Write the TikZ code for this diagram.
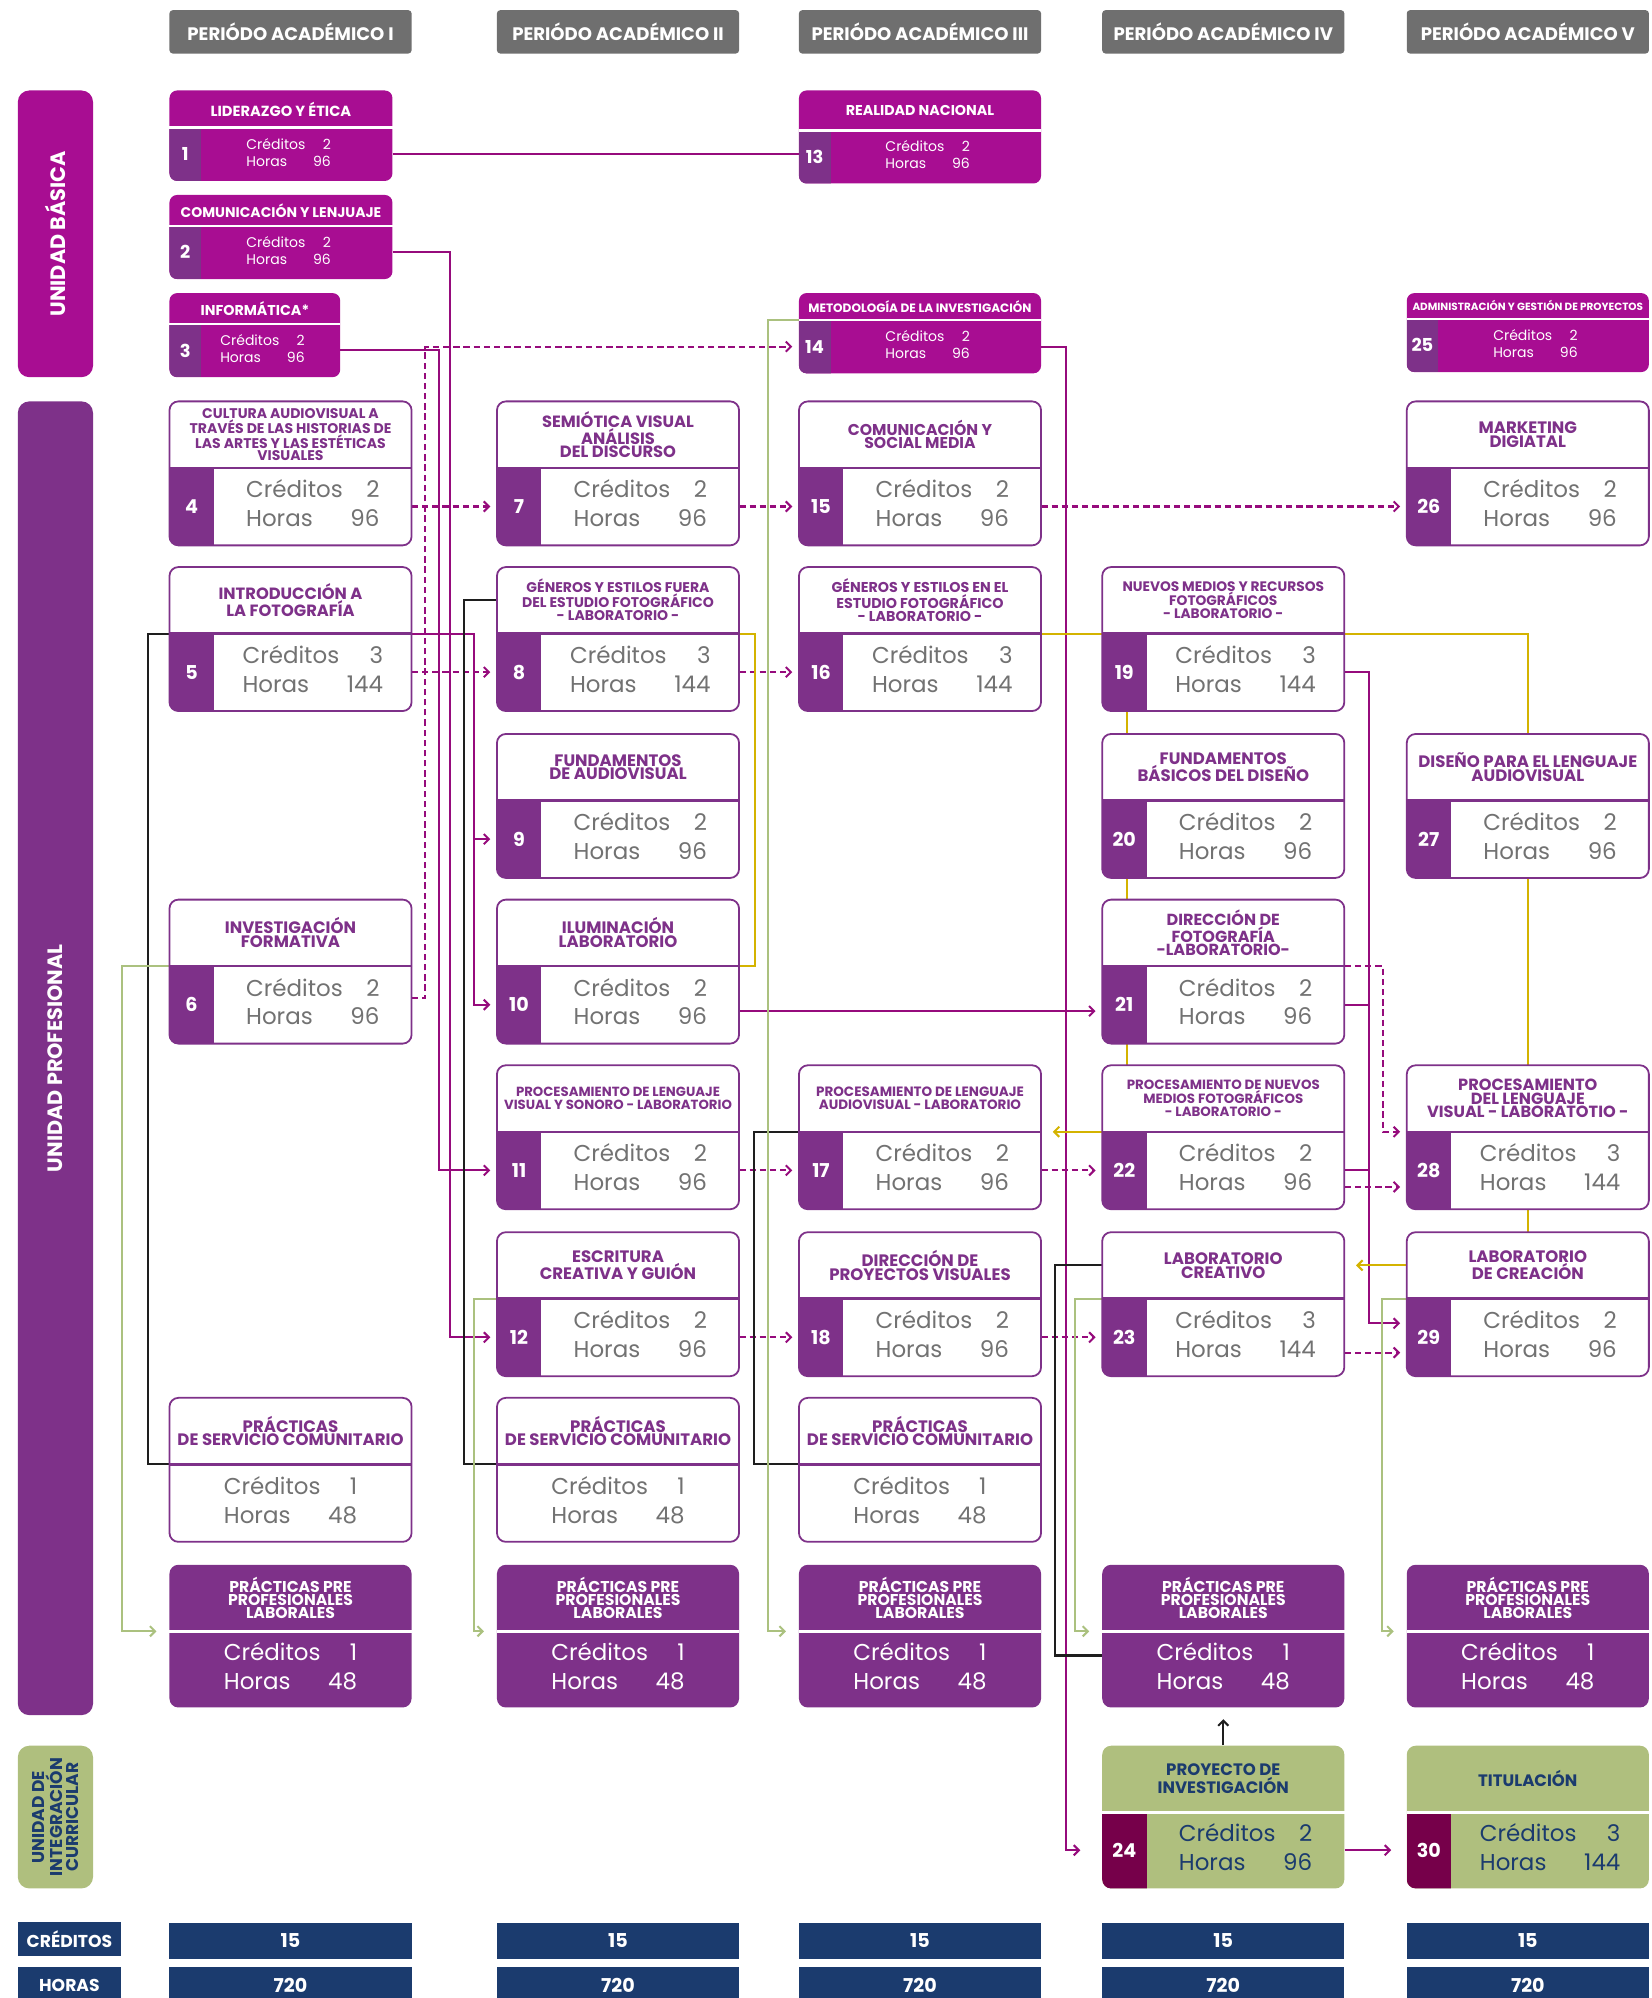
\documentclass[tikz,border=0pt]{standalone}
\usepackage{fontspec}
\setmainfont{Poppins}
\usetikzlibrary{arrows.meta}
\pgfdeclarelayer{bg}
\pgfsetlayers{bg,main}

\definecolor{magfill}{HTML}{A80D92}
\definecolor{profcol}{HTML}{7E3189}
\definecolor{txtgray}{HTML}{727272}
\definecolor{lnkmag}{HTML}{960B7C}
\definecolor{lnkblk}{HTML}{1E1E1E}
\definecolor{hdrgray}{HTML}{6F6F6F}
\definecolor{navy}{HTML}{1B3B6E}
\definecolor{sage}{HTML}{AFBF7E}
\definecolor{sageline}{HTML}{ABC17F}
\definecolor{gold}{HTML}{D4B300}
\definecolor{stripmaroon}{HTML}{76004A}

\newcommand{\tf}[2]{\fontsize{#1}{#2}\selectfont\bfseries}
\newcommand{\crtab}[2]{\begin{tabular}{@{}l@{\hspace{6pt}}r@{}}Créditos&#1\\Horas&#2\end{tabular}}

% basic unit: [font]{name}{x}{y}{width}{title height}{number}{title}
\newcommand{\basica}[8][\tf{11.2}{11}]{%
  \fill[magfill,rounded corners=6pt] (#3,#4) rectangle ++(#5,{#6+42});
  \node[ttl,text=white,font=#1,minimum width=#5pt,minimum height=#6pt] (#2t) at ({#3+#5/2},{#4+#6/2}) {#8};
  \node[bdy,minimum width=#5pt,minimum height=42pt] (#2) at ({#3+#5/2},{#4+#6+21}) {};
  \begin{scope}
    \clip[rounded corners=6pt] (#3,#4) rectangle ++(#5,{#6+42});
    \fill[profcol] (#2.north west) rectangle ([xshift=25pt]#2.south west);
  \end{scope}
  \draw[white,line width=2pt] (#2t.south west) -- (#2t.south east);
  \node[num,font=\tf{14}{14}] at ([xshift=12.5pt]#2.west) {#7};
  \node[text=white,font=\fontsize{11}{13.5}\selectfont] at ([xshift=6pt]#2.center) {\crtab{2}{96}};
}
% professional unit: [font]{name}{x}{y}{number}{title}{credits}{hours}
\newcommand{\prof}[8][\tf{13}{10.8}]{%
  \fill[white,rounded corners=7pt] (#3,#4) rectangle ++(190,113);
  \node[ttl,font=#1] (#2t) at ({#3+95},{#4+26}) {#6};
  \node[bdy] (#2) at ({#3+95},{#4+82.5}) {};
  \begin{scope}
    \clip[rounded corners=7pt] (#3,#4) rectangle ++(190,113);
    \fill[profcol] (#2.north west) rectangle ([xshift=35pt]#2.south west);
  \end{scope}
  \draw[profcol,line width=2pt] (#2t.south west) -- (#2t.south east);
  \draw[profcol,line width=1.4pt,rounded corners=7pt] (#3,#4) rectangle ++(190,113);
  \node[num] at ([xshift=17.5pt]#2.west) {#5};
  \node[crd] at ([xshift=17.5pt]#2.center) {\crtab{#7}{#8}};
}
% community service: {name}{x}
\newcommand{\serv}[2]{%
  \fill[white,rounded corners=7pt] (#2,1097) rectangle ++(190,113);
  \node[ttl] (#1t) at ({#2+95},1123) {PRÁCTICAS\\DE SERVICIO COMUNITARIO};
  \node[bdy] (#1) at ({#2+95},1179.5) {};
  \draw[profcol,line width=2pt] (#1t.south west) -- (#1t.south east);
  \draw[profcol,line width=1.4pt,rounded corners=7pt] (#2,1097) rectangle ++(190,113);
  \node[crd] at (#1.center) {\crtab{1}{48}};
}
% pre-professional: {name}{x}
\newcommand{\prepro}[2]{%
  \fill[profcol,rounded corners=7pt] (#2,1228) rectangle ++(190,112);
  \node[ttl,text=white,font=\tf{12.3}{10.5}] (#1t) at ({#2+95},1254) {PRÁCTICAS PRE\\PROFESIONALES\\LABORALES};
  \node[bdy,minimum height=60pt] (#1) at ({#2+95},1310) {};
  \draw[white,line width=2.5pt] (#1t.south west) -- (#1t.south east);
  \node[crd,text=white] at (#1.center) {\crtab{1}{48}};
}
% curricular integration: {name}{x}{number}{title}{credits}{hours}
\newcommand{\integ}[6]{%
  \fill[sage,rounded corners=7pt] (#2,1370) rectangle ++(190,112);
  \node[ttl,text=navy] (#1t) at ({#2+95},1396) {#4};
  \node[bdy,minimum height=60pt] (#1) at ({#2+95},1452) {};
  \begin{scope}
    \clip[rounded corners=7pt] (#2,1370) rectangle ++(190,112);
    \fill[stripmaroon] (#1.north west) rectangle ([xshift=35pt]#1.south west);
  \end{scope}
  \draw[white,line width=2.5pt] (#1t.south west) -- (#1t.south east);
  \node[num] at ([xshift=17.5pt]#1.west) {#3};
  \node[crd,text=navy] at ([xshift=17.5pt]#1.center) {\crtab{#5}{#6}};
}

\begin{document}
\begin{tikzpicture}[x=1pt,y=-1pt,>={Straight Barb[length=4pt,width=8pt]},
  ttl/.style={inner sep=0pt,minimum width=190pt,minimum height=52pt,align=center,text=profcol,font=\tf{13}{10.8}},
  bdy/.style={inner sep=0pt,minimum width=190pt,minimum height=61pt},
  num/.style={text=white,font=\tf{15}{15}},
  crd/.style={text=txtgray,font=\fontsize{18}{22.5}\selectfont},
  hdr/.style={fill=hdrgray,rounded corners=2.5pt,minimum width=190pt,minimum height=34pt,text=white,font=\tf{14.2}{14}},
  unit/.style={rounded corners=9pt,minimum height=59pt,align=center,rotate=90},
  tot/.style={fill=navy,minimum width=190pt,minimum height=28pt,text=white,font=\tf{15}{15}},
  lnk/.style={draw=lnkmag,line width=1.6pt},
  dsh/.style={lnk,dash pattern=on 5pt off 3pt},
  blk/.style={draw=lnkblk,line width=1.6pt},
  gld/.style={draw=gold,line width=1.6pt},
  grn/.style={draw=sageline,line width=1.6pt},
  tip/.style={->,shorten >=#1}, tip/.default=5pt]

\useasboundingbox (0,0) rectangle (1296,1568);

% period headers
\node[hdr] (h1) at (228,25) {PERIÓDO ACADÉMICO I};
\node[hdr] (h2) at (485,25) {PERIÓDO ACADÉMICO II};
\node[hdr] (h3) at (722,25) {PERIÓDO ACADÉMICO III};
\node[hdr] (h4) at (960,25) {PERIÓDO ACADÉMICO IV};
\node[hdr] (h5) at (1199,25) {PERIÓDO ACADÉMICO V};

% units
\node[unit,fill=magfill,minimum width=225pt,text=white,font=\tf{16.3}{16}] (ub) at (43.5,183.5) {UNIDAD BÁSICA};
\node[unit,fill=profcol,minimum width=1031pt,text=white,font=\tf{16.3}{16}] (up) at (43.5,830.5) {UNIDAD PROFESIONAL};
\node[unit,fill=sage,minimum width=112pt,text=navy,font=\tf{13.4}{12.5}] (ui) at (43.5,1426) {UNIDAD DE\\INTEGRACIÓN\\CURRICULAR};

% basic
\basica[\tf{11.5}{11}]{c1}{133}{71}{175}{29}{1}{LIDERAZGO Y ÉTICA}
\basica[\tf{11}{11}]{c2}{133}{153}{175}{24}{2}{COMUNICACIÓN Y LENJUAJE}
\basica{c3}{133}{230}{134}{24}{3}{INFORMÁTICA*}
\basica{c13}{627}{71}{190}{31}{13}{REALIDAD NACIONAL}
\basica[\tf{9.5}{9}]{c14}{627}{230}{190}{21}{14}{METODOLOGÍA DE LA INVESTIGACIÓN}
\basica[\tf{8.2}{8}]{c25}{1104}{230}{190}{20}{25}{ADMINISTRACIÓN Y GESTIÓN DE PROYECTOS}

% professional
\prof[\tf{11}{9.8}]{c4}{133}{315}{4}{CULTURA AUDIOVISUAL A\\TRAVÉS DE LAS HISTORIAS DE\\LAS ARTES Y LAS ESTÉTICAS\\VISUALES}{2}{96}
\prof[\tf{12.8}{10.8}]{c5}{133}{445}{5}{INTRODUCCIÓN A\\LA FOTOGRAFÍA}{3}{144}
\prof{c6}{133}{706}{6}{INVESTIGACIÓN\\FORMATIVA}{2}{96}
\prof[\tf{12.8}{10.3}]{c7}{390}{315}{7}{SEMIÓTICA VISUAL\\ANÁLISIS\\DEL DISCURSO}{2}{96}
\prof[\tf{11}{10.2}]{c8}{390}{445}{8}{GÉNEROS Y ESTILOS FUERA\\DEL ESTUDIO FOTOGRÁFICO\\- LABORATORIO -}{3}{144}
\prof{c9}{390}{576}{9}{FUNDAMENTOS\\DE AUDIOVISUAL}{2}{96}
\prof{c10}{390}{706}{10}{ILUMINACIÓN\\LABORATORIO}{2}{96}
\prof[\tf{10.4}{10}]{c11}{390}{836}{11}{PROCESAMIENTO DE LENGUAJE\\VISUAL Y SONORO - LABORATORIO}{2}{96}
\prof{c12}{390}{967}{12}{ESCRITURA\\CREATIVA Y GUIÓN}{2}{96}
\prof[\tf{12.3}{10.8}]{c15}{627}{315}{15}{COMUNICACIÓN Y\\SOCIAL MEDIA}{2}{96}
\prof[\tf{11.2}{10.2}]{c16}{627}{445}{16}{GÉNEROS Y ESTILOS EN EL\\ESTUDIO FOTOGRÁFICO\\- LABORATORIO -}{3}{144}
\prof[\tf{10.6}{10}]{c17}{627}{836}{17}{PROCESAMIENTO DE LENGUAJE\\AUDIOVISUAL - LABORATORIO}{2}{96}
\prof{c18}{627}{967}{18}{DIRECCIÓN DE\\PROYECTOS VISUALES}{2}{96}
\prof[\tf{10.8}{10.2}]{c19}{865}{445}{19}{NUEVOS MEDIOS Y RECURSOS\\FOTOGRÁFICOS\\- LABORATORIO -}{3}{144}
\prof{c20}{865}{576}{20}{FUNDAMENTOS\\BÁSICOS DEL DISEÑO}{2}{96}
\prof[\tf{12.6}{10.3}]{c21}{865}{706}{21}{DIRECCIÓN DE\\FOTOGRAFÍA\\-LABORATORIO-}{2}{96}
\prof[\tf{10.5}{10}]{c22}{865}{836}{22}{PROCESAMIENTO DE NUEVOS\\MEDIOS FOTOGRÁFICOS\\- LABORATORIO -}{2}{96}
\prof{c23}{865}{967}{23}{LABORATORIO\\CREATIVO}{3}{144}
\prof{c26}{1104}{315}{26}{MARKETING\\DIGIATAL}{2}{96}
\prof{c27}{1104}{576}{27}{DISEÑO PARA EL LENGUAJE\\AUDIOVISUAL}{2}{96}
\prof[\tf{12.7}{10.3}]{c28}{1104}{836}{28}{PROCESAMIENTO\\DEL LENGUAJE\\VISUAL - LABORATOTIO -}{3}{144}
\prof{c29}{1104}{967}{29}{LABORATORIO\\DE CREACIÓN}{2}{96}

% practices
\serv{s1}{133}
\serv{s2}{390}
\serv{s3}{627}
\prepro{p1}{133}
\prepro{p2}{390}
\prepro{p3}{627}
\prepro{p4}{865}
\prepro{p5}{1104}

% integration
\integ{c24}{865}{24}{PROYECTO DE\\INVESTIGACIÓN}{2}{96}
\integ{c30}{1104}{30}{TITULACIÓN}{3}{144}

% totals
\node[tot,minimum width=81pt,minimum height=27pt,font=\tf{13.5}{13}] (tcr) at (54.5,1521.5) {CRÉDITOS};
\node[tot,minimum width=81pt,font=\tf{13.5}{13}] (thr) at (54.5,1558) {HORAS};
\foreach \cx [count=\i] in {228,485,722,960,1199} {
  \node[tot] (tc\i) at (\cx,1523) {15};
  \node[tot] (th\i) at (\cx,1558) {720};
}

\begin{pgfonlayer}{bg}
% solid
\draw[lnk] (c1.east) -- (c1.east -| c13.west);
\draw[lnk,tip] (c2.east) -- ++(45,0) |- (c12.west);
\draw[lnk,tip] (c3.east) -- ++(77,0) |- (c11.west);
\draw[lnk,tip] (c5t.south east) -- ++(49,0) |- (c9.west);
\draw[lnk,tip] (c5t.south east) -- ++(49,0) |- (c10.west);
\draw[lnk,tip] ([yshift=-5pt]c10.east) -- ([yshift=-5pt]c21.west);
\draw[lnk,tip=17pt] (c14.east) -- ++(19,0) |- (c24.west);
\draw[lnk,tip] (c19.east) -- ++(19,0) |- ([yshift=11pt]c29.west);
\draw[lnk] (c21.east) -- ++(19,0);
\draw[lnk] (c22.east) -- ++(19,0);
\draw[lnk,tip=12pt] (c24.east) -- (c30.west);
% dashed
\foreach \a/\b in {c4/c7,c7/c15,c15/c26,c5/c8,c8/c16,c11/c17,c17/c22,c12/c18,c18/c23}
  \draw[dsh,tip] (\a.east) -- (\b.west);
\draw[dsh,tip] ([yshift=5pt]c6.east) -- ++(10,0) |- (c14.west);
\draw[dsh,tip] (c21t.south east) -- ++(30,0) |- (c28t.south west);
\draw[dsh,tip] ([yshift=-13pt]c22.east) -- ([yshift=-13pt]c28.west);
\draw[dsh,tip] ([yshift=-12pt]c23.east) -- ([yshift=-12pt]c29.west);
% black
\draw[blk] (c5t.south west) -- ++(-17,0) |- (s1t.south west);
\draw[blk] (c8t.west) -- ++(-26,0) |- (s2t.south west);
\draw[blk] (c17t.south west) -- ++(-35,0) |- (s3t.south west);
\draw[blk] (c23t.west) -- ++(-37,0) |- ([yshift=-19pt]p4t.south west);
\draw[blk,tip=9pt] (c24t.north) -- (p4.south);
% gold
\draw[gld] (c8t.south east) -- ++(12,0) |- (c10t.south east);
\draw[gld] (c16t.south east) -- (c19t.south west);
\draw[gld] (c19t.south east) -| (c27t.north);
\draw[gld] (c27.south) -- (c28t.north);
\draw[gld] (c28.south) -- (c29t.north);
\draw[gld] ([xshift=20pt]c19.south west) -- ([xshift=20pt]c22t.north west);
\draw[gld,tip=9pt] (c22t.south west) -- (c22t.south west -| c17.east);
\draw[gld,tip=9pt] (c29t.west) -- (c29t.west -| c23t.east);
% green
\draw[grn,tip=10pt] (c6t.south west) -- ++(-37,0) |- (p1t.south west);
\draw[grn,tip=10pt] (c12t.south west) -- ++(-18,0) |- (p2t.south west);
\draw[grn,tip=10pt] (c14t.south west) -- ++(-24,0) |- (p3t.south west);
\draw[grn,tip=10pt] (c23t.south west) -- ++(-21,0) |- (p4t.south west);
\draw[grn,tip=10pt] (c29t.south west) -- ++(-19,0) |- (p5t.south west);
\end{pgfonlayer}
\end{tikzpicture}
\end{document}
